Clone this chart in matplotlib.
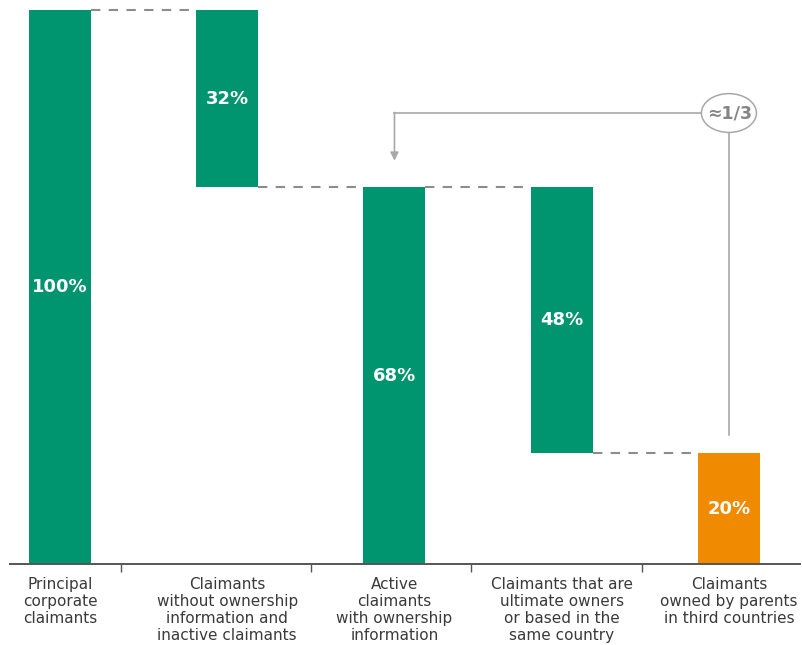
"""Waterfall of principal corporate claimants by ownership"""
import matplotlib.pyplot as plt
from matplotlib.patches import Ellipse

# Chart data
categories = [
    "Principal\ncorporate\nclaimants",
    "Claimants\nwithout ownership\ninformation and\ninactive claimants",
    "Active\nclaimants\nwith ownership\ninformation",
    "Claimants that are\nultimate owners\nor based in the\nsame country",
    "Claimants\nowned by parents\nin third countries",
]
bar_bottoms = [0, 68, 0, 20, 0]
bar_heights = [100, 32, 68, 48, 20]
value_labels = ["100%", "32%", "68%", "48%", "20%"]
tick_positions = [0.365, 1.5, 2.46, 3.48]
share_label = "\u22481/3"

GREEN = "#00956F"
ORANGE = "#F08A00"
bar_colors = [GREEN, GREEN, GREEN, GREEN, ORANGE]
BAR_W = 0.371

fig = plt.figure(figsize=(8.02, 6.45), dpi=100)
ax = fig.add_axes([10 / 802, 81 / 645, 790 / 802, 564 / 645])

ax.bar(range(len(bar_heights)), bar_heights, bottom=bar_bottoms,
       width=BAR_W, color=bar_colors, zorder=2)

# value labels in the middle of each bar
for i, (b, h, lab) in enumerate(zip(bar_bottoms, bar_heights, value_labels)):
    ax.text(i, b + h / 2, lab, ha="center", va="center", color="white",
            fontsize=13, fontweight="bold", family="DejaVu Sans")

# dashed connectors: each one runs at the top of the next bar
for i in range(len(bar_heights) - 1):
    level = bar_bottoms[i + 1] + bar_heights[i + 1]
    ax.plot([i + BAR_W / 2, i + 1 - BAR_W / 2], [level, level],
            color="#8c8c8c", lw=1.5, dashes=(4.5, 4), zorder=1)

# "approximately one third" annotation
ell_x, ell_y, ell_w, ell_h = 4.0, 81.4, 0.329, 7.0
ax.add_patch(Ellipse((ell_x, ell_y), ell_w, ell_h, facecolor="white",
                     edgecolor="#a8a8a8", lw=1.1, zorder=3))
ax.text(ell_x + 0.005, ell_y, share_label, ha="center", va="center",
        color="#858585", fontsize=12.5, fontweight="bold", zorder=4)
ax.plot([2.0, ell_x - ell_w / 2], [ell_y, ell_y], color="#a8a8a8", lw=1.2)
ax.annotate("", xy=(2.0, 72.8), xytext=(2.0, ell_y + 0.1),
            arrowprops=dict(arrowstyle="-|>", color="#a8a8a8", lw=1.2,
                            mutation_scale=12, shrinkA=0, shrinkB=0))
ax.plot([ell_x, ell_x], [ell_y - ell_h / 2, 23.3], color="#a8a8a8", lw=1.2)

# axes styling
ax.set_xlim(-0.299, 4.425)
ax.set_ylim(0, 101.8)
for side in ["top", "left", "right"]:
    ax.spines[side].set_visible(False)
ax.spines["bottom"].set_color("#555555")
ax.spines["bottom"].set_linewidth(1.4)
ax.set_yticks([])
ax.set_xticks(tick_positions)
ax.set_xticklabels([])
ax.tick_params(axis="x", direction="out", length=6, width=1, color="#555555")

for i, cat in enumerate(categories):
    ax.annotate(cat, xy=(i, 0), xycoords=("data", "axes fraction"),
                xytext=(0, -13), textcoords="offset pixels",
                ha="center", va="top", fontsize=11, color="#3a3a3a",
                linespacing=1.17, family="DejaVu Sans")

fig.savefig("out.png", dpi=100)
